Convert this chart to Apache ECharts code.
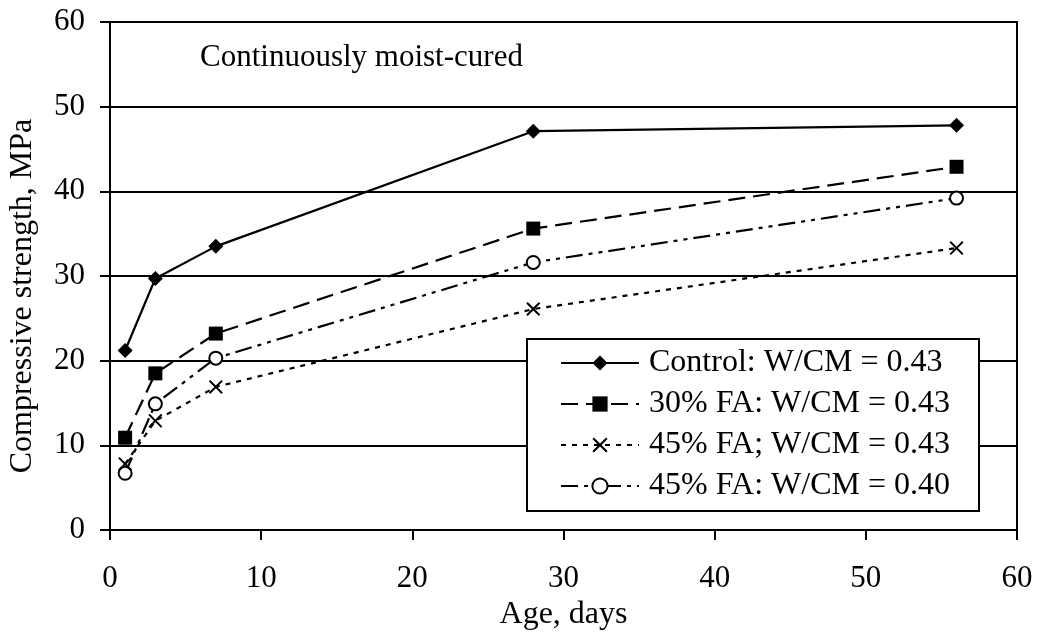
<!DOCTYPE html>
<html>
<head>
<meta charset="utf-8">
<script src="https://cdn.jsdelivr.net/npm/echarts@6/dist/echarts.min.js"></script>
<style>
  html, body { margin: 0; padding: 0; background: #fff; }
  #chart { width: 1037px; height: 636px; }
</style>
</head>
<body>
<div id="chart"></div>
<script>
// Test ages (days)
const ages = [1, 3, 7, 28, 56];

// Compressive strength (MPa) per mix
const control043 = [21.2, 29.7, 33.5, 47.1, 47.8];
const fa30w043 = [10.9, 18.5, 23.2, 35.6, 42.9];
const fa45w043 = [7.8, 12.9, 16.9, 26.1, 33.3];
const fa45w040 = [6.7, 14.9, 20.3, 31.6, 39.2];

const seriesNames = [
  'Control: W/CM = 0.43',
  '30% FA: W/CM = 0.43',
  '45% FA; W/CM = 0.43',
  '45% FA: W/CM = 0.40'
];

const FONT = 'Liberation Serif';
const crossPath = 'path://M0,1.6L1.6,0L8,6.4L14.4,0L16,1.6L9.6,8L16,14.4L14.4,16L8,9.6L1.6,16L0,14.4L6.4,8Z';

function pairs(ys) { return ages.map((a, i) => [a, ys[i]]); }

const chart = echarts.init(document.getElementById('chart'), null, { renderer: 'canvas' });

chart.setOption({
  animation: false,
  backgroundColor: '#fff',
  textStyle: { fontFamily: FONT, color: '#000' },
  grid: {
    left: 110, right: 20, top: 22, bottom: 106,
    containLabel: false, outerBoundsMode: 'none',
    show: true, borderColor: '#000', borderWidth: 2
  },
  graphic: [
    {
      type: 'text', left: 200, top: 42,
      style: { text: 'Continuously moist-cured', font: '31px "Liberation Serif"', fill: '#000' }
    },
    {
      // vertical axis title
      type: 'text', x: 23, y: 296, rotation: Math.PI / 2,
      style: {
        text: 'Compressive strength, MPa', font: '32px "Liberation Serif"', fill: '#000',
        align: 'center', verticalAlign: 'middle'
      }
    }
  ],
  legend: {
    orient: 'vertical',
    left: 527, top: 339,
    backgroundColor: '#fff',
    borderColor: '#000', borderWidth: 2, borderRadius: 0,
    padding: [8, 29, 9, 33],
    itemWidth: 78, itemHeight: 19, itemGap: 9,
    textStyle: { fontFamily: FONT, fontSize: 32, color: '#000', padding: [0, 0, 0, 5] },
    data: seriesNames
  },
  xAxis: {
    type: 'value', min: 0, max: 60, interval: 10,
    name: 'Age, days', nameLocation: 'middle', nameGap: 66,
    nameTextStyle: { fontFamily: FONT, fontSize: 32, color: '#000' },
    axisLine: { show: true, lineStyle: { color: '#000', width: 2 } },
    axisTick: { show: true, inside: false, length: 10, lineStyle: { color: '#000', width: 2 } },
    axisLabel: { fontFamily: FONT, fontSize: 31, color: '#000', margin: 33 },
    splitLine: { show: false }
  },
  yAxis: {
    type: 'value', min: 0, max: 60, interval: 10,
    axisLine: { show: true, lineStyle: { color: '#000', width: 2 } },
    axisTick: { show: true, inside: false, length: 10, lineStyle: { color: '#000', width: 2 } },
    axisLabel: { fontFamily: FONT, fontSize: 31, color: '#000', margin: 25 },
    splitLine: { show: true, lineStyle: { color: '#000', width: 2 } }
  },
  series: [
    {
      name: seriesNames[0], type: 'line', data: pairs(control043),
      symbol: 'diamond', symbolSize: 15,
      lineStyle: { color: '#000', width: 2.2, type: 'solid' },
      itemStyle: { color: '#000' }
    },
    {
      name: seriesNames[1], type: 'line', data: pairs(fa30w043),
      symbol: 'rect', symbolSize: 14,
      lineStyle: { color: '#000', width: 2.2, type: [17, 8] },
      itemStyle: { color: '#000' }
    },
    {
      name: seriesNames[2], type: 'line', data: pairs(fa45w043),
      symbol: crossPath, symbolSize: 14,
      lineStyle: { color: '#000', width: 2.2, type: [5, 6] },
      itemStyle: { color: '#000' }
    },
    {
      name: seriesNames[3], type: 'line', data: pairs(fa45w040),
      symbol: 'circle', symbolSize: 13,
      lineStyle: { color: '#000', width: 2.2, type: [17, 6, 4, 6, 4, 6] },
      itemStyle: { color: '#fff', borderColor: '#000', borderWidth: 2 }
    }
  ]
});
</script>
</body>
</html>
